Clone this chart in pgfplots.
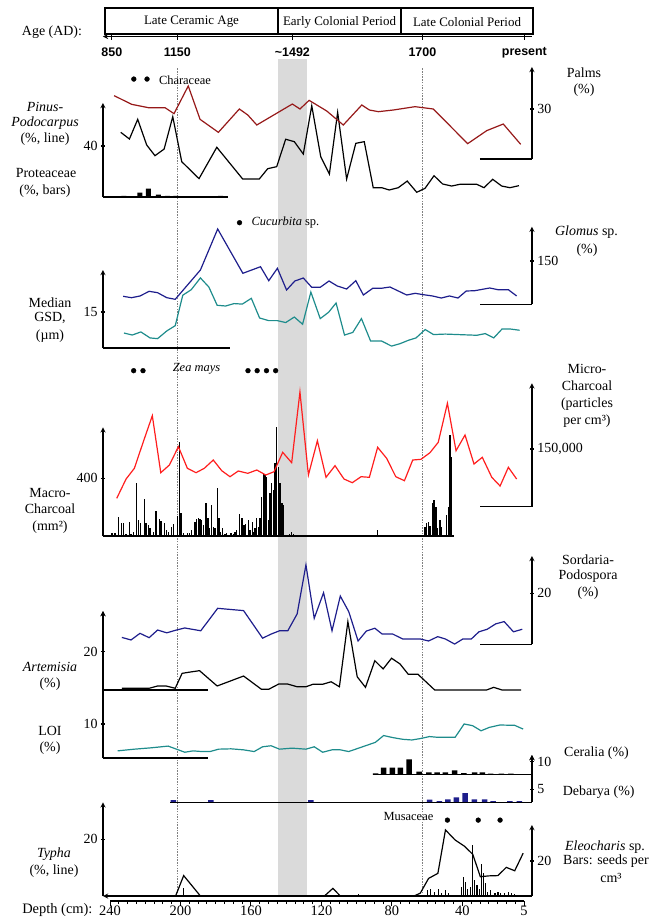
\documentclass[border=0pt]{standalone}
\usepackage{fontspec}
\setmainfont{Liberation Serif}
\newfontfamily\sansb{Liberation Sans}
\usepackage{pgfplots}
\pgfplotsset{compat=1.18}

\definecolor{palm}{RGB}{150,25,25}
\definecolor{navyc}{RGB}{30,30,140}
\definecolor{tealc}{RGB}{30,140,140}
\definecolor{redc}{RGB}{255,30,30}
\definecolor{bandc}{RGB}{218,218,218}

\newcommand\lab{\fontsize{14}{16}\selectfont}
\newcommand\tk{\fontsize{14}{16}\selectfont}
\newcommand\ann{\fontsize{12.5}{14}\selectfont}
\newcommand\hdr{\fontsize{13}{15}\selectfont}
\newcommand\agef{\sansb\bfseries\fontsize{12.5}{14}\selectfont}
\newcommand\lbl[3]{\node[font=\lab,inner sep=0pt] at (#1bp,-#2bp) {#3};}

\pgfplotsset{
  panel/.style={scale only axis, width=428.97bp, xmin=0.5, xmax=244, x dir=reverse,
    clip=false, anchor=south west, ymin=0,
    tick align=outside, major tick length=4bp, tick style={line width=1.2bp, black},
    axis line style={-, line width=1.3bp}, tick label style={font=\tk},
    /pgf/number format/assume math mode=true, xtick=\empty, scaled y ticks=false},
  L/.style={panel, axis y line=left, axis x line=none},
  R/.style={panel, axis y line=right, axis x line=none},
  dl/.style={line width=1.2bp},
  dot/.style={only marks, mark=*, mark size=2.4bp, black},
}

\begin{document}
\begin{tikzpicture}
\path[use as bounding box] (0,0) rectangle (659bp,-919bp);

% background band and dashed lines
\begin{axis}[panel, at={(103bp,-896bp)}, height=837bp, ymax=1, axis lines=none]
\addplot[fill=bandc, draw=none] coordinates {(144.6,1) (128.2,1)} \closedcycle;
\addplot[gray, line width=0.6bp, dash pattern=on 1.5bp off 1.2bp] coordinates {(202.0,0) (202.0,0.99)};
\addplot[gray, line width=0.6bp, dash pattern=on 1.5bp off 1.2bp] coordinates {(62.9,0) (62.9,0.99)};
\end{axis}

% header
\draw[line width=1.2bp] (105bp,-8bp) rectangle (533bp,-34bp);
\draw[line width=1.2bp] (278bp,-8bp) -- (278bp,-34bp);
\draw[line width=1.2bp] (401bp,-8bp) -- (401bp,-34bp);
\node[font=\hdr] at (191.5bp,-22bp) {Late Ceramic Age};
\node[font=\hdr] at (339.5bp,-22bp) {Early Colonial Period};
\node[font=\hdr] at (467bp,-22bp) {Late Colonial Period};
\node[font=\lab] at (52bp,-31.7bp) {Age (AD):};

% age axis
\begin{axis}[panel, at={(103bp,-36.5bp)}, height=1bp, ymax=1,
  axis x line=bottom, axis y line=none, xtick={239.0,201.8,136.5,62.7,4.8},
  xticklabels={850,1150,{\textasciitilde1492},1700,present},
  x tick label style={font=\agef, yshift=-4.5bp}, major tick length=6bp]
\end{axis}

% Panel 1 left: Pinus-Podocarpus and Proteaceae
\begin{axis}[L, at={(103bp,-197bp)}, height=94bp, ymax=73.73, ytick={40}]
\addplot[black, dl] coordinates {(233.9,50.7) (229.0,45.5) (224.3,60.9) (219.2,40.8) (214.5,32.4) (209.3,37.6) (204.4,63.0) (199.3,27.7) (189.5,14.4) (179.4,39.0) (164.7,14.1) (155.3,14.1) (150.5,22.2) (145.4,23.8) (140.3,45.3) (135.4,43.4) (130.3,33.7) (125.5,71.6) (120.4,31.6) (115.5,18.0) (110.8,66.4) (105.7,14.1) (100.5,42.1) (95.7,43.4) (90.6,7.3) (85.8,7.3) (81.5,5.5) (76.4,7.3) (71.3,12.5) (65.9,3.7) (61.2,6.8) (56.1,16.7) (51.2,10.2) (46.1,8.6) (41.3,10.0) (31.9,10.0) (27.7,7.3) (22.8,13.9) (17.7,8.6) (13.0,7.3) (7.9,8.9)};
\addplot[ybar, bar width=5bp, fill=black, draw=none] coordinates {(232.2,0.8) (223.0,3.4) (218.3,6.5) (212.6,1.8) (207.5,0.8) (202.7,0.8) (177.2,0.8)};
\addplot[dot] coordinates {(226.5,92.5) (219.0,92.5)};
\draw[line width=1.3bp] (axis cs:244,0) -- (axis cs:173.2,0);
\end{axis}

% Panel 1 right: Palms
\begin{axis}[R, at={(103bp,-159bp)}, height=92bp, ymax=55.2, ytick={30}]
\addplot[palm, dl] coordinates {(237.7,38.0) (227.7,32.8) (218.3,30.8) (208.8,30.8) (203.7,27.2) (195.6,43.8) (188.9,23.8) (178.5,16.0) (166.6,30.0) (161.8,26.4) (156.7,20.4) (136.5,33.0) (132.2,30.0) (127.0,35.2) (117.0,28.8) (107.6,20.4) (97.1,32.4) (92.8,29.4) (87.7,28.4) (79.2,29.4) (66.9,31.4) (56.5,30.0) (37.0,9.2) (26.2,17.0) (16.8,21.0) (6.9,8.8)};
\draw[line width=1.3bp] (axis cs:30,0) -- (axis cs:0.5,0);
\end{axis}

% Panel 2 left: median GSD
\begin{axis}[L, at={(103bp,-348bp)}, height=78bp, ymax=32.5, ytick={15}]
\addplot[tealc, dl] coordinates {(232.1,6.25) (227.4,5.4) (222.5,6.7) (217.3,4.2) (213.0,3.9) (207.8,7.1) (203.0,9.3) (198.7,22.0) (193.9,24.3) (188.7,29.2) (183.9,25.4) (179.2,17.8) (174.4,17.5) (169.6,18.5) (164.9,18.3) (159.8,20.7) (155.1,12.5) (149.9,11.4) (145.0,11.4) (140.3,10.6) (135.4,12.9) (130.7,9.9) (126.0,23.3) (120.7,12.25) (115.9,14.9) (111.7,18.75) (106.9,5.4) (102.2,6.5) (97.3,12.25) (92.1,2.9) (85.9,2.9) (80.2,0.8) (75.4,1.8) (70.7,3.2) (66.3,4.2) (61.1,7.7) (56.4,5.6) (49.7,5.8) (42.5,5.6) (31.8,5.3) (27.0,6.0) (22.2,4.2) (17.5,7.9) (12.7,7.9) (7.5,7.4)};
\draw[line width=1.3bp] (axis cs:244,0) -- (axis cs:171.7,0);
\end{axis}

% Panel 2 right: Glomus
\begin{axis}[R, at={(103bp,-304.3bp)}, height=77.6bp, ymax=268.8, ytick={150}]
\addplot[navyc, dl] coordinates {(232.6,27.7) (227.8,22.9) (223.0,28.8) (217.8,45.0) (213.0,40.2) (207.8,22.9) (203.0,17.3) (188.7,118.8) (178.9,260.8) (164.6,107.4) (154.6,130.2) (149.9,81.8) (145.0,124.7) (139.8,49.5) (135.1,80.7) (130.3,91.1) (125.5,58.9) (120.7,58.9) (115.7,80.7) (111.0,63.4) (105.7,53.0) (100.5,81.8) (96.2,32.2) (90.9,55.4) (86.1,55.4) (81.1,59.9) (71.6,32.2) (66.8,38.1) (62.1,33.3) (56.9,28.8) (52.0,21.8) (47.3,28.8) (42.5,21.8) (37.8,46.1) (33.0,47.1) (24.5,56.5) (19.8,50.6) (13.9,50.6) (9.2,28.8)};
\addplot[dot] coordinates {(166.5,282.7)};
\draw[line width=1.3bp] (axis cs:29.8,0) -- (axis cs:0.5,0);
\end{axis}

% Panel 3 left: macro-charcoal
\begin{axis}[L, at={(103bp,-536bp)}, height=108.7bp, ymax=753.6, ytick={400}]
\addplot[ycomb, black, line width=1.4bp] coordinates {(239.0,23) (237.2,18) (235.3,129) (233.4,92) (232.4,92) (231.0,15) (229.0,99) (228.0,12) (226.8,30) (224.9,365) (223.9,111) (222.6,88) (220.5,254) (219.6,88) (218.3,76) (217.3,53) (215.5,25) (213.9,173) (212.0,115) (211.1,106) (209.2,88) (207.8,42) (206.9,30) (205.0,65) (204.1,83) (201.6,139) (200.7,651) (199.7,157) (198.4,18) (196.1,23) (194.8,20) (193.6,42) (191.8,99) (190.8,115) (189.9,122) (188.9,118) (188.0,111) (187.0,76) (185.5,226) (184.5,122) (183.6,53) (182.3,215) (181.4,65) (180.4,53) (179.1,330) (178.1,122) (177.2,30) (176.0,53) (174.8,12) (173.8,18) (171.3,18) (170.0,14) (169.0,30) (168.1,42) (166.6,152) (165.2,122) (163.9,76) (163.0,83) (161.5,111) (160.5,42) (159.2,99) (158.5,30) (157.7,53) (156.7,122) (155.8,65) (154.9,122) (153.9,273) (153.0,430) (152.0,423) (151.1,411) (150.1,111) (149.2,296) (148.2,365) (147.3,319) (146.3,504) (145.4,758) (144.5,480) (143.5,365) (142.5,226) (141.6,215) (139.0,10) (138.0,12) (136.9,30) (136.0,14) (88.3,42) (61.2,65) (60.2,88) (59.3,99) (58.4,69) (57.1,226) (56.1,249) (55.0,203) (54.0,53) (52.7,111) (51.7,65) (48.9,145) (48.0,203) (47.0,700) (46.1,550)};
\draw[line width=1.3bp] (axis cs:244,0) -- (axis cs:45,0);
\end{axis}

% Panel 3 right: micro-charcoal
\begin{axis}[R, at={(103bp,-506.7bp)}, height=123.4bp, ymax=320800, ytick={150000}, yticklabels={150{,}000}]
\addplot[redc, dl] coordinates {(236.2,21800) (230.9,72000) (226.2,99800) (221.1,169000) (216.0,236600) (211.2,88400) (206.3,108400) (201.2,156000) (196.1,99800) (191.2,88400) (186.5,99800) (181.4,121400) (176.6,93600) (171.9,78000) (167.2,92800) (161.8,86800) (156.7,95400) (151.6,82400) (146.9,91000) (142.0,141400) (136.9,114400) (132.2,298200) (127.4,82400) (122.3,171600) (117.4,76400) (112.3,106600) (107.2,72000) (102.5,62400) (97.5,78000) (92.8,76400) (88.1,154400) (83.0,125800) (77.8,78000) (72.9,67600) (68.2,121400) (63.5,123200) (58.4,140400) (53.7,167400) (48.5,268800) (43.6,145600) (38.5,186400) (33.4,111000) (28.7,128400) (23.3,76400) (18.6,53800) (13.9,102400) (9.2,72000)};
\addplot[dot] coordinates {(226.6,353600) (221.3,353600) (161.7,353600) (156.5,353600) (151.2,353600) (146.0,353600)};
\draw[line width=1.3bp] (axis cs:29.8,0) -- (axis cs:0.5,0);
\end{axis}

% Panel 4 right: Sordaria
\begin{axis}[R, at={(103bp,-644.3bp)}, height=88.3bp, ymax=34.6, ytick={20}]
\addplot[navyc, dl] coordinates {(233.3,2.7) (228.1,1.7) (223.0,4.3) (217.8,2.6) (213.0,5.6) (207.8,4.5) (202.8,5.5) (197.6,6.4) (188.5,5.3) (178.9,14.1) (164.2,13.2) (153.4,2.4) (148.6,4.0) (143.8,5.3) (139.1,5.3) (133.8,11.9) (128.8,31.1) (124.1,10.2) (118.8,20.2) (114.0,5.3) (109.3,18.9) (104.5,12.8) (99.2,1.3) (94.5,5.2) (89.7,6.3) (85.5,4.0) (79.5,4.0) (73.9,2.1) (64.0,2.1) (59.2,1.3) (54.0,3.0) (49.7,2.1) (44.4,0.1) (39.7,2.1) (34.9,2.1) (30.6,4.9) (25.9,5.9) (21.1,8.0) (16.3,8.9) (11.0,4.9) (6.0,5.9)};
\draw[line width=1.3bp] (axis cs:29.8,0) -- (axis cs:0.5,0);
\end{axis}

% Artemisia
\begin{axis}[L, at={(103bp,-690bp)}, height=79bp, ymax=41.25, ytick={20}]
\addplot[black, dl] coordinates {(233.3,0.9) (217.8,0.9) (213.0,2.1) (208.2,2.1) (203.0,0.9) (199.1,8.7) (194.4,9.4) (189.2,10.1) (179.2,2.1) (164.2,7.3) (154.1,0.4) (149.9,0.4) (144.3,3.1) (139.1,3.1) (133.8,1.7) (128.8,1.7) (124.8,3.0) (119.3,3.0) (114.5,4.3) (109.8,1.7) (105.0,35.7) (99.7,6.9) (95.0,1.4) (89.7,15.3) (85.0,11.0) (80.2,16.6) (75.4,13.6) (70.7,8.2) (65.2,8.2) (55.7,0) (26.3,0) (22.2,1.4) (17.5,0) (6.7,0)};
\draw[line width=1.3bp] (axis cs:244,0) -- (axis cs:184.4,0);
\end{axis}

% LOI
\begin{axis}[L, at={(103bp,-758bp)}, height=147bp, ymax=43.2, ytick={10}]
\addplot[tealc, dl] coordinates {(235.7,2.1) (226.1,2.6) (216.6,3.0) (207.0,3.5) (202.3,2.6) (197.6,1.7) (192.8,2.1) (188.0,1.9) (183.2,1.9) (178.4,2.6) (171.3,2.7) (164.2,2.4) (158.2,1.9) (153.4,3.3) (148.6,3.6) (143.8,2.6) (136.7,2.9) (128.8,2.6) (124.1,3.3) (119.3,1.7) (114.0,2.4) (109.3,2.4) (104.5,1.9) (95.0,3.6) (89.4,4.6) (84.7,6.6) (79.5,6.0) (73.9,5.5) (68.7,5.3) (64.0,5.7) (58.7,6.3) (54.4,6.1) (44.1,6.1) (39.0,10.0) (34.2,9.5) (29.4,8.0) (24.7,9.0) (18.7,9.7) (10.3,9.6) (5.5,8.5)};
\draw[line width=1.3bp] (axis cs:244,0) -- (axis cs:184.4,0);
\end{axis}

% Ceralia
\begin{axis}[R, at={(103bp,-774.7bp)}, height=19.7bp, ymax=15.15, ytick={10}]
\addplot[ybar, bar width=5.5bp, fill=black, draw=none] coordinates {(89.3,1.0) (84.7,5.4) (79.8,5.4) (75.2,5.4) (70.2,11.8) (64.5,2.3) (59.0,1.8) (54.4,1.8) (49.6,1.8) (44.4,3.3) (39.2,1.3) (33.1,1.8) (28.7,1.8) (23.9,0.8) (17.9,0.8) (12.5,0.8)};
\draw[line width=1.3bp] (axis cs:90.9,0) -- (axis cs:0.5,0);
\end{axis}

% Debarya
\begin{axis}[R, at={(103bp,-802.3bp)}, height=47.3bp, ymax=18.2, ytick={5}]
\addplot[ybar, bar width=5.5bp, fill=navyc, draw=none] coordinates {(204.1,0.8) (182.8,0.8) (126.0,0.8) (58.6,1.0) (53.1,0.5) (48.3,1.15) (43.4,1.9) (38.5,3.5) (33.2,1.15) (27.4,1.15) (22.6,0.5) (13.1,0.5) (7.7,0.5)};
\draw[line width=1.3bp] (axis cs:205.8,0) -- (axis cs:0.5,0);
\end{axis}

% Typha
\begin{axis}[panel, axis y line=left, axis x line=bottom, at={(103bp,-896bp)}, height=93.7bp, ymax=33.05, ytick={20}, xtick=\empty]
\addplot[black, dl] coordinates {(233.3,0) (202.8,0) (198.2,7.2) (188.7,0) (118.3,0) (113.5,2.7) (109.3,0) (67.5,0) (63.9,1.0) (59.2,6.2) (53.9,8.0) (49.6,23.3) (44.2,19.8) (38.9,17.6) (34.1,14.7) (29.8,6.8) (25.0,7.1) (19.8,7.2) (15.1,10.1) (10.3,8.9) (5.5,15.1)};
\end{axis}

% Eleocharis
\begin{axis}[R, at={(103bp,-896bp)}, height=71bp, ymax=40.6, ytick={20}]
\addplot[ycomb, black, line width=1.1bp] coordinates {(198.2,4.4) (99.2,1.0) (59.7,3.4) (58.0,3.8) (55.6,2.5) (53.7,3.8) (52.0,1.9) (49.6,3.4) (47.8,1.9) (40.6,5.3) (39.4,11) (38.2,8.2) (37.0,3.8) (35.3,5.3) (34.1,29) (32.9,9.1) (31.7,6.3) (30.5,3.8) (29.4,18.3) (28.2,13) (27.0,7.2) (25.8,2.5) (23.9,3.4) (21.5,1.9) (19.8,2.5) (18.2,1.5) (16.3,1.9) (13.9,2.5) (12.0,1.9) (10.3,1.1)};
\addplot[dot] coordinates {(48.5,43.4) (31.0,43.4) (18.6,43.4)};
\end{axis}

% depth axis
\begin{axis}[scale only axis, width=414bp, height=1bp, xmin=5, xmax=240, x dir=reverse,
  at={(110.05bp,-901bp)}, anchor=south west, axis x line=bottom, axis y line=none,
  axis line style={-, line width=1.2bp}, xtick={240,200,160,120,80,40,5},
  minor xtick={10,15,...,235}, tick align=outside, major tick length=5bp,
  minor tick length=3bp, tick style={line width=1bp,black}, ymin=0, ymax=1,
  x tick label style={font=\fontsize{14.5}{16}\selectfont, inner sep=1bp, yshift=1bp},
  /pgf/number format/assume math mode=true]
\end{axis}
\node[font=\fontsize{14.5}{16}\selectfont, anchor=east] at (96bp,-910.5bp) {Depth (cm):};

% left labels
\lbl{45}{107}{\textit{Pinus-}}
\lbl{45}{123}{\textit{Podocarpus}}
\lbl{45}{139}{(\%, line)}
\lbl{46}{173}{Proteaceae}
\lbl{45}{191}{(\%, bars)}
\lbl{50}{302.7}{Median}
\lbl{50}{318.3}{GSD,}
\lbl{50}{336}{(µm)}
\lbl{50}{493}{Macro-}
\lbl{50}{509}{Charcoal}
\lbl{50}{527}{(mm²)}
\lbl{50}{666.7}{\textit{Artemisia}}
\lbl{50}{684}{(\%)}
\lbl{50}{730.7}{LOI}
\lbl{50}{748.3}{(\%)}
\lbl{54}{854.3}{\textit{Typha}}
\lbl{54}{871}{(\%, line)}

% right labels
\lbl{584}{72.7}{Palms}
\lbl{584}{90}{(\%)}
\lbl{586.5}{232.3}{\textit{Glomus} sp.}
\lbl{587}{250}{(\%)}
\lbl{587}{369.3}{Micro-}
\lbl{587}{386}{Charcoal}
\lbl{587}{404}{(particles}
\lbl{587}{421}{per cm³)}
\lbl{588}{560}{Sordaria-}
\lbl{588}{576}{Podospora}
\lbl{588}{593.3}{(\%)}
\node[font=\lab, anchor=west, inner sep=0pt] at (564bp,-753.3bp) {Ceralia (\%)};
\node[font=\lab, anchor=west, inner sep=0pt] at (562.7bp,-791.7bp) {Debarya (\%)};
\lbl{605}{847.3}{\textit{Eleocharis} sp.}
\lbl{606}{861}{Bars: seeds per}
\lbl{611}{877.7}{cm³}

% annotations
\node[font=\ann, anchor=west, inner sep=0pt] at (158.8bp,-80bp) {Characeae};
\node[font=\ann, anchor=west, inner sep=0pt] at (251.3bp,-222.5bp) {\textit{Cucurbita} sp.};
\node[font=\ann, inner sep=0pt] at (196.5bp,-369bp) {\textit{Zea mays}};
\node[font=\ann, anchor=east, inner sep=0pt] at (433.5bp,-816bp) {Musaceae};
\end{tikzpicture}
\end{document}
